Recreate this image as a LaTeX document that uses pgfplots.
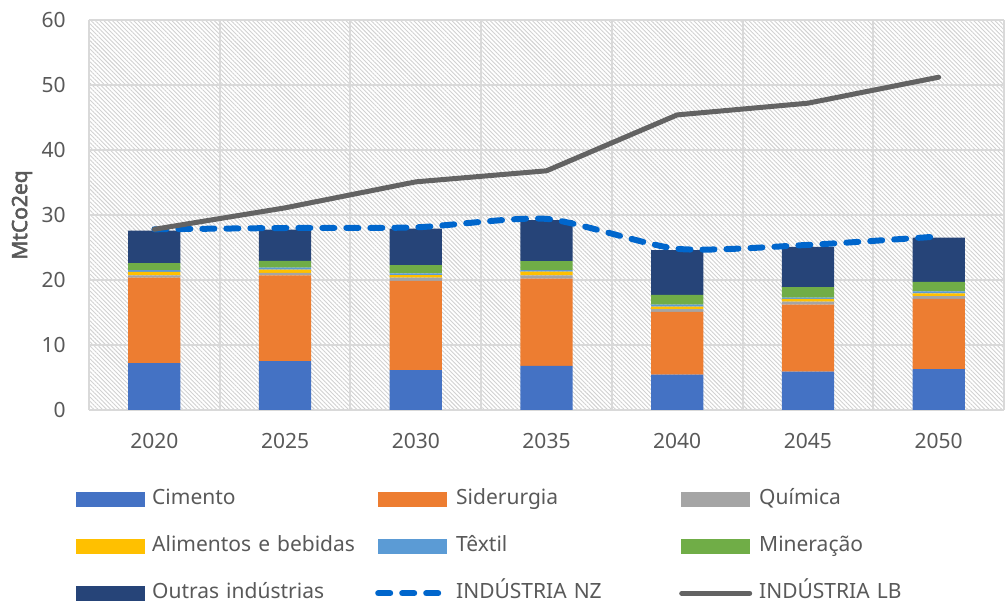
\documentclass[border=0pt]{standalone}
\usepackage{pgfplots}
\usepackage{pgfplotstable}
\pgfplotsset{compat=1.18}
\usepackage{fontspec}
\setmainfont{Noto Sans}[AutoFakeBold=2.5]
\usetikzlibrary{patterns.meta}

\definecolor{cCim}{HTML}{4472C4}
\definecolor{cSid}{HTML}{ED7D31}
\definecolor{cQui}{HTML}{A5A5A5}
\definecolor{cAli}{HTML}{FFC000}
\definecolor{cTex}{HTML}{5B9BD5}
\definecolor{cMin}{HTML}{70AD47}
\definecolor{cOut}{HTML}{264478}
\definecolor{cNZ}{HTML}{0066CC}
\definecolor{cLB}{HTML}{636363}
\definecolor{cTxt}{HTML}{595959}
\definecolor{cGrid}{HTML}{D9D9D9}

\pgfplotstableread{
x cim sid qui ali tex min out nz lb
0 7.20 13.15 0.35 0.55 0.25 1.10 5.00 27.8 27.8
1 7.50 13.20 0.40 0.50 0.30 1.05 4.80 28.0 31.1
2 6.15 13.70 0.50 0.40 0.25 1.30 5.60 28.1 35.1
3 6.77 13.43 0.50 0.60 0.20 1.40 6.30 29.4 36.8
4 5.43 9.65 0.42 0.40 0.30 1.50 6.90 24.8 45.4
5 5.90 10.30 0.47 0.41 0.22 1.60 6.20 25.4 47.2
6 6.30 10.78 0.42 0.45 0.30 1.45 6.80 26.7 51.2
}\dados

\newcommand{\barleg}[1]{\addlegendimage{legend image code/.code={\fill[#1] (0pt,-3.5pt) rectangle (34pt,3.5pt);}}}

\pgfplotsset{
  base/.style={
    at={(0,0)}, anchor=south west,
    width=457.5pt, height=195pt, scale only axis,
    xmin=-0.5, xmax=6.5, ymin=0, ymax=60,
    font=\fontsize{10.5}{12.6}\selectfont,
  },
}

\begin{document}
\begin{tikzpicture}
\useasboundingbox (-44.5pt,-97pt) rectangle (458pt,205pt);

% barras empilhadas, grelha e fundo tracejado
\begin{axis}[
  base,
  ybar stacked,
  bar width=0.4,
  axis background/.style={pattern={Lines[angle=-45,distance=1.5pt,line width=0.45pt]}, pattern color=black!18},
  axis line style={draw=none},
  major tick length=0pt, minor tick length=0pt,
  xtick={0,...,6},
  xticklabels={2020,2025,2030,2035,2040,2045,2050},
  minor xtick={-0.5,0.5,...,6.5},
  ytick={0,10,...,60},
  xminorgrids=true, ymajorgrids=true,
  grid style={draw=cGrid, line width=1pt},
  minor grid style={draw=cGrid, line width=1pt},
  /pgf/number format/assume math mode=true,
  every tick label/.append style={text=cTxt},
  xticklabel style={anchor=center, inner sep=0pt, yshift=-15.5pt},
  yticklabel style={anchor=east, inner sep=0pt, xshift=-11.5pt},
  ylabel={MtCo2eq},
  every axis y label/.style={at={(axis description cs:0,0.5)}, xshift=-33.5pt, rotate=90, anchor=center, text=cTxt, font=\fontsize{10.5}{12.6}\selectfont\bfseries},
]
\addplot[fill=cCim, draw=none] table[x=x,y=cim]{\dados};
\addplot[fill=cSid, draw=none] table[x=x,y=sid]{\dados};
\addplot[fill=cQui, draw=none] table[x=x,y=qui]{\dados};
\addplot[fill=cAli, draw=none] table[x=x,y=ali]{\dados};
\addplot[fill=cTex, draw=none] table[x=x,y=tex]{\dados};
\addplot[fill=cMin, draw=none] table[x=x,y=min]{\dados};
\addplot[fill=cOut, draw=none] table[x=x,y=out]{\dados};
\end{axis}

% linhas e legenda
\begin{axis}[
  base,
  hide axis,
  clip=false,
  legend columns=3,
  legend cell align=left,
  legend image code/.code={\draw[#1] (0pt,0pt) -- (34pt,0pt);},
  legend style={
    at={(axis description cs:-0.0142,-0.201)}, anchor=north west,
    draw=none, fill=none, inner sep=0pt, row sep=13pt,
    font=\fontsize{10.5}{12.6}\selectfont,
    nodes={text=cTxt, text width=108pt, inner xsep=3.5pt, inner ysep=0pt, text height=8pt, text depth=2.5pt},
  },
]
\barleg{cCim}\addlegendentry{Cimento}
\barleg{cSid}\addlegendentry{Siderurgia}
\barleg{cQui}\addlegendentry{Química}
\barleg{cAli}\addlegendentry{Alimentos e bebidas}
\barleg{cTex}\addlegendentry{Têxtil}
\barleg{cMin}\addlegendentry{Mineração}
\barleg{cOut}\addlegendentry{Outras indústrias}
\addplot[cNZ, line width=3pt, line cap=round, dash pattern=on 6pt off 6pt, smooth, tension=0.4] table[x=x,y=nz]{\dados};
\addlegendentry{INDÚSTRIA NZ}
\addplot[cLB, line width=2.5pt, line cap=round, line join=round] table[x=x,y=lb]{\dados};
\addlegendentry{INDÚSTRIA LB}
\end{axis}
\end{tikzpicture}
\end{document}
